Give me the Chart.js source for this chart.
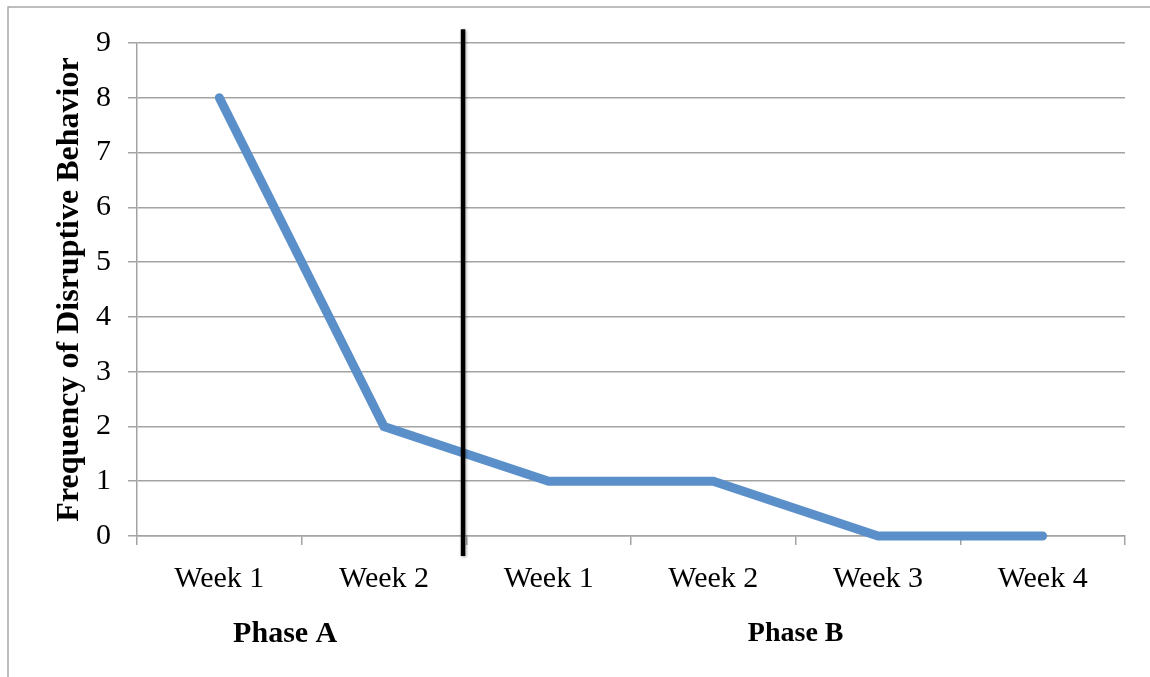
<!DOCTYPE html>
<html>
<head>
<meta charset="utf-8">
<script src="https://cdn.jsdelivr.net/npm/chart.js@4.4.1/dist/chart.umd.min.js"></script>
<style>
  html, body { margin: 0; padding: 0; background: #ffffff; }
  #wrap { position: relative; width: 1150px; height: 677px; }
  canvas { display: block; }
</style>
</head>
<body>
<div id="wrap"><canvas id="c" width="1150" height="677"></canvas></div>
<script>
// ---- data ----
const categories = ["Week 1", "Week 2", "Week 1", "Week 2", "Week 3", "Week 4"];
const frequency = [8, 2, 1, 1, 0, 0];
const yTicks = [0, 1, 2, 3, 4, 5, 6, 7, 8, 9];
const yAxisTitle = "Frequency of Disruptive Behavior";
const phaseLabels = ["Phase A", "Phase B"];
const phaseLabelAt = [0.4, 3.5];      // position along category index
const phaseChangeAt = 1.48;           // between Phase A and Phase B

const FONT = '"Liberation Serif", "Times New Roman", serif';
const GRID = '#a3a3a3';

const decor = {
  id: 'decor',
  beforeDraw(chart) {
    const ctx = chart.ctx;
    ctx.save();
    ctx.fillStyle = '#ffffff';
    ctx.fillRect(0, 0, chart.width, chart.height);
    ctx.strokeStyle = '#a8a8a8';
    ctx.lineWidth = 1.5;
    ctx.beginPath();
    ctx.moveTo(8, chart.height);
    ctx.lineTo(8, 7);
    ctx.lineTo(chart.width, 7);
    ctx.stroke();
    ctx.restore();
  },
  afterDatasetsDraw(chart) {
    const ctx = chart.ctx;
    const x = chart.scales.x;
    const y = chart.scales.y;
    const area = chart.chartArea;
    ctx.save();
    // phase change line
    const px = x.getPixelForValue(phaseChangeAt);
    ctx.shadowColor = 'rgba(0,0,0,0.35)';
    ctx.shadowBlur = 3;
    ctx.shadowOffsetX = 1;
    ctx.shadowOffsetY = 1;
    ctx.strokeStyle = '#000000';
    ctx.lineWidth = 4.5;
    ctx.beginPath();
    ctx.moveTo(px, y.getPixelForValue(9.25));
    ctx.lineTo(px, area.bottom + 20);
    ctx.stroke();
    ctx.restore();

    ctx.save();
    ctx.fillStyle = '#000000';
    ctx.textAlign = 'center';
    ctx.textBaseline = 'middle';
    phaseLabels.forEach((t, i) => {
      ctx.font = (i === 0 ? 'bold 30px ' : 'bold 28px ') + FONT;
      ctx.fillText(t, x.getPixelForValue(phaseLabelAt[i]), area.bottom + 98);
    });
    ctx.restore();
  }
};

new Chart(document.getElementById('c'), {
  type: 'line',
  data: {
    labels: categories,
    datasets: [{
      data: frequency,
      borderColor: '#5B8FC9',
      borderWidth: 9,
      borderCapStyle: 'round',
      borderJoinStyle: 'miter',
      pointRadius: 0,
      pointHoverRadius: 0,
      tension: 0,
      fill: false,
      clip: false
    }]
  },
  options: {
    responsive: false,
    animation: false,
    devicePixelRatio: 1,
    layout: { padding: { left: 0, top: 43, right: 25, bottom: 0 } },
    plugins: { legend: { display: false }, tooltip: { enabled: false } },
    scales: {
      x: {
        type: 'category',
        offset: true,
        grid: {
          offset: true,
          drawOnChartArea: false,
          drawTicks: true,
          tickLength: 9,
          color: GRID,
          lineWidth: 1.5
        },
        border: { display: true, color: GRID, width: 1.5 },
        ticks: {
          color: '#000000',
          font: { family: FONT, size: 30 },
          padding: 16,
          maxRotation: 0,
          autoSkip: false
        },
        afterFit(s) { s.height = 141; s.paddingLeft = 0; s.paddingRight = 0; }
      },
      y: {
        min: 0,
        max: 9,
        afterBuildTicks(s) { s.ticks = yTicks.map(v => ({ value: v })); },
        grid: {
          drawTicks: true,
          tickLength: 9,
          color: GRID,
          lineWidth: 1.5
        },
        border: { display: true, color: GRID, width: 1.5 },
        ticks: {
          color: '#000000',
          font: { family: FONT, size: 30 },
          padding: 17
        },
        title: {
          display: true,
          text: yAxisTitle,
          color: '#000000',
          font: { family: FONT, size: 32, weight: 'bold' },
          padding: { top: 51, bottom: 0 }
        },
        afterFit(s) { s.width = 137; s.paddingTop = 0; s.paddingBottom = 0; }
      }
    }
  },
  plugins: [decor]
});
</script>
</body>
</html>
